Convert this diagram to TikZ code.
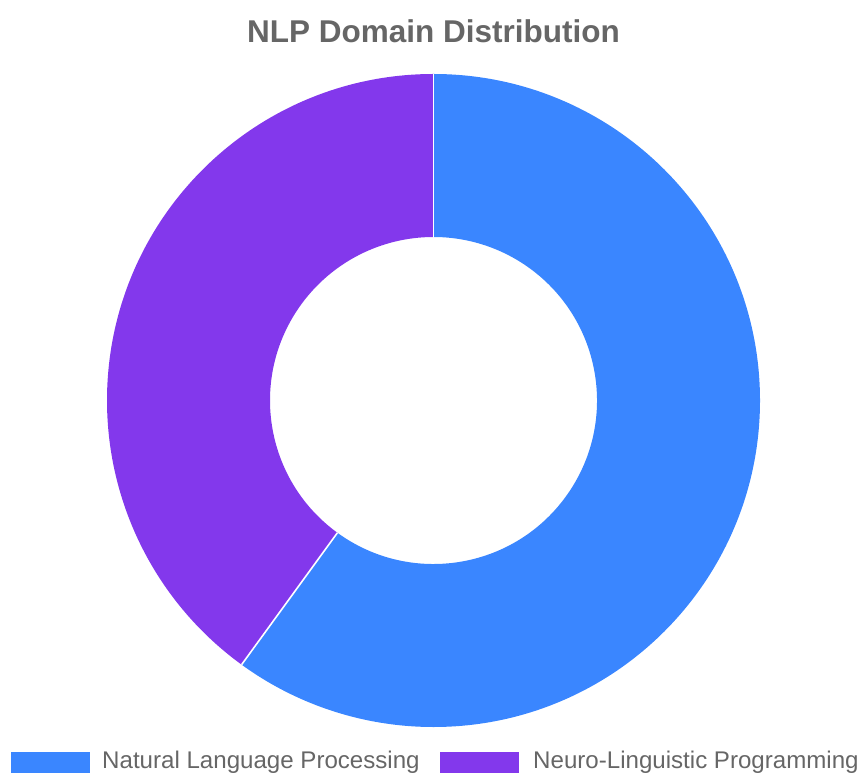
\documentclass[tikz,border=0pt]{standalone}
\usepackage{fontspec}
\setmainfont{Liberation Sans}

\definecolor{nlpblue}{HTML}{3A86FF}
\definecolor{nlppurple}{HTML}{8338EC}
\definecolor{txtgray}{HTML}{666666}

\begin{document}
\begin{tikzpicture}[x=1pt,y=1pt]

	\useasboundingbox (0,0) rectangle (858,774);

	\coordinate 	(c)		at	(433.5,373.5);

	% slices
	\fill[nlpblue]	([shift={(90:326.5)}]c)	arc[start angle=90,end angle=-126,radius=326.5]	--	([shift={(-126:163.5)}]c)	arc[start angle=-126,end angle=90,radius=163.5]	--	cycle;
	\fill[nlppurple]	([shift={(90:326.5)}]c)	arc[start angle=90,end angle=234,radius=326.5]	--	([shift={(234:163.5)}]c)	arc[start angle=234,end angle=90,radius=163.5]	--	cycle;

	\draw[white, line width=1.6pt]	([shift={(90:163.5)}]c)	--	([shift={(90:326.5)}]c);
	\draw[white, line width=1.6pt]	([shift={(234:163.5)}]c)	--	([shift={(234:326.5)}]c);

	\node 	(title)		at	(433.5,743) 	[text=txtgray, font=\bfseries\fontsize{31.5}{36}\selectfont]{NLP Domain Distribution};

	% legend
	\node 	(k1)		at	(50.5,12) 	[rectangle, fill=nlpblue, inner sep=0pt, minimum width=79pt, minimum height=21pt]{};
	\node 	(l1)		at	(102,12) 	[anchor=west, inner sep=0pt, text=txtgray, font=\fontsize{24.1}{28}\selectfont]{Natural Language Processing};
	\node 	(k2)		at	(479,12) 	[rectangle, fill=nlppurple, inner sep=0pt, minimum width=79pt, minimum height=21pt]{};
	\node 	(l2)		at	(533,12) 	[anchor=west, inner sep=0pt, text=txtgray, font=\fontsize{24.1}{28}\selectfont]{Neuro-Linguistic Programming};

\end{tikzpicture}
\end{document}
